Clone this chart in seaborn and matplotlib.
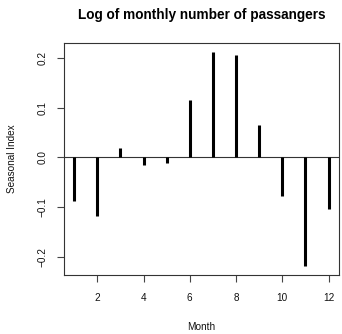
import matplotlib
matplotlib.use("Agg")
import matplotlib.pyplot as plt
import seaborn as sns
import numpy as np
import pandas as pd

# Seasonal indices of the log of monthly passenger counts
months = [1, 2, 3, 4, 5, 6, 7, 8, 9, 10, 11, 12]
seasonal_index = [-0.088, -0.117, 0.019, -0.015, -0.011, 0.116,
                  0.212, 0.205, 0.066, -0.078, -0.219, -0.103]
x_ticks = [2, 4, 6, 8, 10, 12]
y_ticks = [-0.2, -0.1, 0.0, 0.1, 0.2]
y_tick_labels = ["\u22120.2", "\u22120.1", "0.0", "0.1", "0.2"]

df = pd.DataFrame({"Month": months, "Seasonal Index": seasonal_index})

sns.set_style("white")
plt.rcParams["font.family"] = ["Liberation Sans", "DejaVu Sans"]
plt.rcParams["text.color"] = "black"

fig = plt.figure(figsize=(3.42, 3.34), dpi=100)
ax = fig.add_axes([64 / 342, 1 - 275 / 334, 274.7 / 342, 231.7 / 334])

ax.axhline(0, color="#333333", lw=0.8, zorder=1)
ax.vlines(df["Month"], 0, df["Seasonal Index"], color="black", lw=2.2, zorder=2)

span = max(seasonal_index) - min(seasonal_index)
ax.set_xlim(1 - 0.04 * 11, 12 + 0.04 * 11)
ax.set_ylim(min(seasonal_index) - 0.04 * span, max(seasonal_index) + 0.04 * span)

ax.set_xticks(x_ticks)
ax.set_xticklabels([str(t) for t in x_ticks], fontsize=7.2, color="#111111")
ax.set_yticks(y_ticks)
ax.set_yticklabels(y_tick_labels, fontsize=7.2, rotation=90, va="center",
                   color="#111111")
ax.tick_params(axis="both", direction="out", length=5, width=0.8,
               color="#444444", left=True, bottom=True)
ax.tick_params(axis="x", pad=8)
ax.tick_params(axis="y", pad=7)

for s in ax.spines.values():
    s.set_visible(True)
    s.set_color("#333333")
    s.set_linewidth(0.8)

ax.set_xlabel("Month", fontsize=7.2, color="#111111", va="center")
ax.xaxis.set_label_coords(0.5, -0.224)
ax.set_ylabel("Seasonal Index", fontsize=7.2, color="#111111", va="center")
ax.yaxis.set_label_coords(-0.189, 0.5)

fig.text(201.4 / 342, 1 - 15 / 334, "Log of monthly number of passangers",
         ha="center", va="center", fontsize=9.8, fontweight="bold",
         color="black")

fig.savefig("out.png", dpi=100, facecolor="white")
